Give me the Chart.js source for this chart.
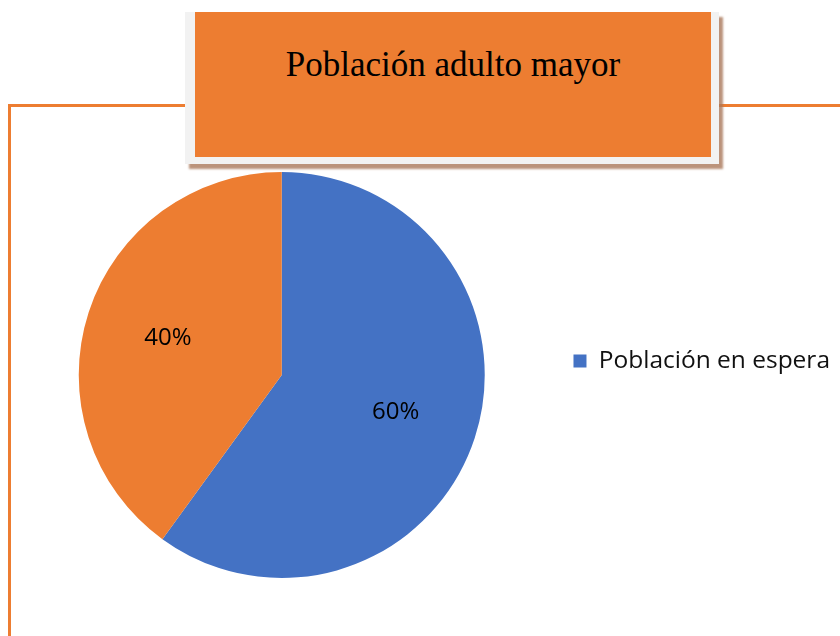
<!DOCTYPE html>
<html lang="es">
<head>
<meta charset="utf-8">
<title>Población adulto mayor</title>
<script src="https://cdn.jsdelivr.net/npm/chart.js@4.4.1/dist/chart.umd.min.js"></script>
<style>
  body { margin:0; background:#fff; }
  #wrap { position:relative; width:840px; height:636px; overflow:hidden; background:#fff; }
  /* marco naranja del area del grafico */
  #marco { position:absolute; left:8px; top:104px; width:900px; height:600px; border-top:3px solid #ED7D31; border-left:3px solid #ED7D31; }
  #grafico { position:absolute; left:0; top:0; }
  /* caja del titulo */
  #caja { position:absolute; left:185px; top:12px; width:534px; height:152px; background:#f2f2f2; box-shadow:4px 5px 2px rgba(170,120,90,0.8); }
  #caja .titulo { position:absolute; left:10px; top:0; width:516px; height:145px; background:#ED7D31; box-sizing:border-box; padding-top:33px;
    font-family:"Liberation Serif","Times New Roman",serif; font-size:35px; line-height:40px; color:#000; text-align:center; }
</style>
</head>
<body>
<div id="wrap">
  <div id="marco"></div>
  <canvas id="grafico" width="840" height="636"></canvas>
  <div id="caja"><div class="titulo">Población adulto mayor</div></div>
</div>
<script>
// Datos del grafico
const CATEGORIAS = ["Población en espera", ""];
const VALORES = [60, 40];
const ETIQUETAS = ["60%", "40%"];

// Porcentajes dentro de cada porcion
const etiquetasPlugin = {
  id: 'etiquetas',
  afterDatasetsDraw(chart) {
    let ctx = chart.ctx;
    let meta = chart.getDatasetMeta(0);
    ctx.save();
    ctx.font = '24px "Open Sans"';
    ctx.fillStyle = '#000';
    ctx.textAlign = 'center';
    ctx.textBaseline = 'middle';
    meta.data.forEach((arc, i) => {
      let p = arc.getProps(['x', 'y', 'startAngle', 'endAngle', 'outerRadius'], true);
      let ang = (p.startAngle + p.endAngle) / 2;
      let r = p.outerRadius * 0.59;
      ctx.fillText(ETIQUETAS[i], p.x + Math.cos(ang) * r, p.y + Math.sin(ang) * r);
    });
    ctx.restore();
  }
};

// subir un poco la leyenda
const leyendaPlugin = {
  id: 'subirLeyenda',
  afterLayout(chart) {
    chart.legend.top -= 14;
    chart.legend.bottom -= 14;
  }
};

function dibujar() {
  const ctx = document.getElementById('grafico').getContext('2d');
  new Chart(ctx, {
    type: 'pie',
    data: {
      labels: CATEGORIAS,
      datasets: [{
        data: VALORES,
        backgroundColor: ['#4472C4', '#ED7D31'],
        borderWidth: 0
      }]
    },
    options: {
      responsive: false,
      animation: false,
      devicePixelRatio: 1,
      layout: { padding: { left: 0, right: 0, top: 172, bottom: 58 } },
      plugins: {
        tooltip: { enabled: false },
        legend: {
          position: 'right',
          labels: {
            boxWidth: 13,
            boxHeight: 13,
            padding: 10,
            color: '#111',
            font: { family: '"Open Sans"', size: 24.5 },
            filter: (item) => item.text !== ''
          }
        }
      }
    },
    plugins: [etiquetasPlugin, leyendaPlugin]
  });
}

window.onload = () => {
  Promise.all([
    document.fonts.load('24px "Open Sans"'),
    document.fonts.load('35px "Liberation Serif"')
  ]).then(dibujar, dibujar);
};
</script>
</body>
</html>
